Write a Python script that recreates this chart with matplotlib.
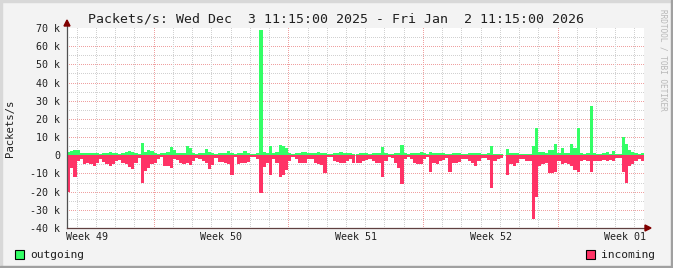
import matplotlib
matplotlib.use("Agg")
import matplotlib.pyplot as plt
import matplotlib.dates as mdates
import numpy as np
from matplotlib.patches import Rectangle, Polygon
from datetime import datetime, timedelta

# 4-hour samples from Wed Dec 3 11:15 2025, values in thousands of packets/s
start = datetime(2025, 12, 3, 11, 15)
end = datetime(2026, 1, 2, 11, 15)
step_hours = 4

outgoing = [
    2, 2.5, 3, 3, 1, 1, 1.5, 1.5, 1.5, 1,
    0.5, 1, 1, 2, 1.5, 1, 0.5, 1, 2, 2.5,
    2, 1, 0.5, 7, 2, 3, 2.5, 1.5, 0.5, 1,
    1.5, 2, 4.5, 3, 1.5, 1, 1, 5, 4, 1.5,
    0.5, 1, 1.5, 3.5, 2, 1.5, 0.5, 1, 1, 1.5,
    2.5, 1, 0.5, 1, 1.5, 2.5, 1.5, 0.5, 0.5, 1,
    69, 2, 1.5, 5, 1, 2, 5.5, 5, 4, 1,
    0.5, 1, 1.5, 2, 2, 1, 1, 1.5, 2, 1.5,
    1.5, 0.5, 0.5, 1.5, 1.5, 2, 1.5, 1, 1.5, 0.5,
    0.5, 1.5, 1, 1, 0.5, 1, 1, 1, 4.5, 1,
    0.5, 0.5, 1, 1.5, 5.5, 1, 0.5, 1, 1, 1.5,
    2, 1, 0.5, 2, 1.5, 1, 1, 1, 0.5, 0.5,
    1, 1, 1, 0.5, 0.5, 1, 1, 1.5, 1, 0.5,
    0.5, 1, 5, 0.5, 0.5, 0.5, 0, 3.5, 1, 1.5,
    1.5, 0.5, 0.5, 0.5, 0.5, 5, 15, 2, 2, 1.5,
    3, 3, 6, 1, 4, 1, 1.5, 6, 4, 15,
    1, 0.5, 1, 27, 1.5, 0.5, 0.5, 1, 2, 0.5,
    2.5, 0.5, 0.5, 10, 6, 3, 2, 1, 0.5, 1,
]

incoming = [
    -20, -7, -12, -3, -2, -5, -4.5, -5, -6, -4,
    -2, -3.5, -5, -6, -5, -3, -2.5, -4, -5, -6.5,
    -7.5, -4, -1.5, -15, -8.5, -7, -5, -4, -2, -1,
    -6, -6, -7, -2, -2.5, -4, -5, -4, -5.5, -3,
    -1.5, -2, -3, -4.5, -7.5, -5.5, -1.5, -3.5, -3.5, -4,
    -5, -11, -1, -5, -4, -4, -3.5, -1, -1, -2,
    -21, -6.5, -4, -11, -2, -4, -12, -11, -8, -3,
    -1, -2, -4, -4.5, -4, -2, -2, -4.5, -5, -5.5,
    -10, -1, -1, -3, -3.5, -4, -4.5, -3, -2, -4,
    -4, -4, -3, -2.5, -2, -3, -4, -4.5, -12, -3,
    -1, -1.5, -4, -7, -16, -2, -1, -2, -4, -5,
    -5, -2, -1, -9, -4, -5, -3, -2.5, -1.5, -9,
    -4, -4, -3.5, -2, -2, -3, -4, -6, -3, -1.5,
    -1.5, -2.5, -18, -3, -2, -1.5, 0, -11, -5, -6,
    -4, -2, -2, -3, -3, -35, -23, -6, -5, -4,
    -10, -10, -9, -3, -5, -4, -5, -6, -8, -9,
    -3, -2.5, -3, -9, -3, -3, -3, -2.5, -3, -2.5,
    -3, -1.5, -1.5, -9, -15, -6, -5, -3, -2, -3,
]

week_labels = ["Week 49", "Week 50", "Week 51", "Week 52", "Week 01"]
y_ticks = [-40, -30, -20, -10, 0, 10, 20, 30, 40, 50, 60, 70]
y_min, y_max = -40, 70

W, H = 673, 268
fig = plt.figure(figsize=(W / 100, H / 100), dpi=100)
fig.patch.set_facecolor("#f3f3f3")

# rrdtool style shaded frame
fig.patches.append(Rectangle((0, 1 - 2 / H), 1, 2 / H, transform=fig.transFigure, color="#d8d8d8", zorder=-1))
fig.patches.append(Rectangle((0, 0), 2 / W, 1, transform=fig.transFigure, color="#d8d8d8", zorder=-1))
fig.patches.append(Rectangle((0, 0), 1, 2 / H, transform=fig.transFigure, color="#a0a0a0", zorder=-1))
fig.patches.append(Rectangle((1 - 2 / W, 0), 2 / W, 1, transform=fig.transFigure, color="#a0a0a0", zorder=-1))

ax_w, ax_h = 577, 200
ax = fig.add_axes([67 / W, 1 - 228 / H, ax_w / W, ax_h / H])
ax.set_facecolor("white")

times = [start + timedelta(hours=step_hours * i) for i in range(len(outgoing))]
width = step_hours / 24
ax.bar(times, outgoing, width=width, align="edge", color="#33ff66", linewidth=0, zorder=3)
ax.bar(times, incoming, width=width, align="edge", color="#ff3366", linewidth=0, zorder=3)

# dotted grid (1px on / 1px off) as a pixel-exact overlay
x0, x1 = mdates.date2num(start), mdates.date2num(end)
grid = np.zeros((ax_h, ax_w, 4))
minor_c = (0.82, 0.82, 0.82, 1.0)
major_c = (0.94, 0.63, 0.63, 1.0)

for v in range(-35, 70, 5):
    r = int(round((y_max - v) / (y_max - y_min) * ax_h))
    r = min(max(r, 0), ax_h - 1)
    grid[r, 0::2] = major_c if v % 10 == 0 else minor_c

day = datetime(2025, 12, 4)
while day < end:
    c = int((mdates.date2num(day) - x0) / (x1 - x0) * ax_w)
    grid[0::2, c] = major_c if day.weekday() == 0 else minor_c
    day += timedelta(days=1)

ax.imshow(grid, extent=(x0, x1, y_min, y_max), aspect="auto",
          interpolation="nearest", zorder=1)

ax.set_xlim(start, end)
ax.set_ylim(y_min, y_max)

for s in ax.spines.values():
    s.set_visible(False)

ax.set_yticks(y_ticks)
ax.set_yticklabels(["0" if v == 0 else "%d k" % v for v in y_ticks])
label_days = [datetime(2025, 12, 4, 12) + timedelta(days=7 * k) for k in range(5)]
ax.set_xticks(label_days)
ax.set_xticklabels(week_labels)
ax.tick_params(length=0, labelsize=7.2, colors="#202020")
ax.tick_params(axis="y", pad=5)
ax.tick_params(axis="x", pad=3)
for lbl in ax.get_xticklabels() + ax.get_yticklabels():
    lbl.set_family("DejaVu Sans Mono")

# axes lines with arrows
fig.add_artist(plt.Line2D([67 / W, 67 / W], [1 - 228 / H, 1 - 24 / H], transform=fig.transFigure,
                          color="#505050", lw=0.9, zorder=5))
fig.add_artist(plt.Line2D([67 / W, 646 / W], [1 - 228 / H, 1 - 228 / H], transform=fig.transFigure,
                          color="#604040", lw=0.9, zorder=5))
fig.patches.append(Polygon([[64 / W, 1 - 26 / H], [70 / W, 1 - 26 / H], [67 / W, 1 - 20 / H]],
                           transform=fig.transFigure, color="#800000", zorder=6))
fig.patches.append(Polygon([[645 / W, 1 - 225 / H], [645 / W, 1 - 231 / H], [651 / W, 1 - 228 / H]],
                           transform=fig.transFigure, color="#800000", zorder=6))

fig.text(335.5 / W, 1 - 19 / H,
         "Packets/s: Wed Dec  3 11:15:00 2025 - Fri Jan  2 11:15:00 2026",
         ha="center", va="center", family="DejaVu Sans Mono", fontsize=9.5, color="#202020")
fig.text(10 / W, 1 - 128 / H, "Packets/s", rotation=90, ha="center", va="center",
         family="DejaVu Sans Mono", fontsize=7.7, color="#202020")
fig.text(663 / W, 1 - 60 / H, "RRDTOOL / TOBI OETIKER", rotation=270, ha="center", va="center",
         family="DejaVu Sans Mono", fontsize=5.6, color="#b8b8b8")

# legend
fig.patches.append(Rectangle((15 / W, 1 - 259 / H), 9 / W, 9 / H, transform=fig.transFigure,
                             facecolor="#33ff66", edgecolor="black", lw=0.8))
fig.text(30 / W, 1 - 254.5 / H, "outgoing", ha="left", va="center",
         family="DejaVu Sans Mono", fontsize=8.1, color="#202020")
fig.patches.append(Rectangle((586 / W, 1 - 259 / H), 9 / W, 9 / H, transform=fig.transFigure,
                             facecolor="#ff3366", edgecolor="black", lw=0.8))
fig.text(601 / W, 1 - 254.5 / H, "incoming", ha="left", va="center",
         family="DejaVu Sans Mono", fontsize=8.1, color="#202020")

fig.savefig("out.png", dpi=100, facecolor=fig.get_facecolor())
